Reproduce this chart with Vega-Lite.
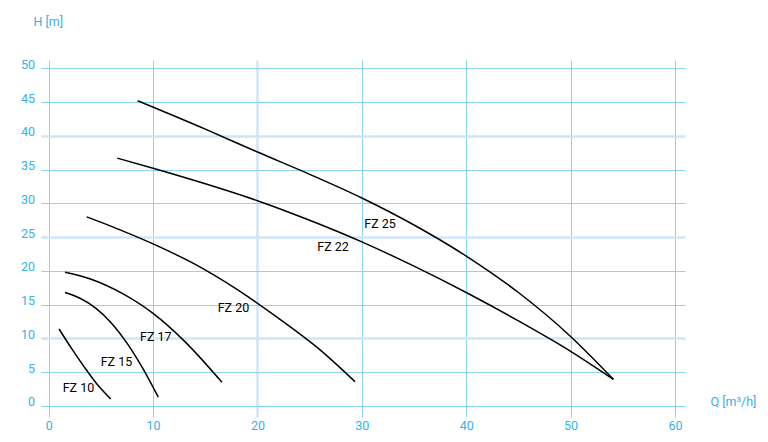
{
  "$schema": "https://vega.github.io/schema/vega-lite/v6.json",
  "width": 644,
  "height": 357,
  "autosize": {"type": "none"},
  "padding": {"left": 41, "top": 60, "right": 83, "bottom": 25},
  "background": "white",
  "config": {"view": {"stroke": null}, "font": "Roboto"},
  "datasets": {
    "curves": [
      {"pump": "FZ 10", "Q": 0.99, "H": 11.4},
      {"pump": "FZ 10", "Q": 2.2, "H": 8.5},
      {"pump": "FZ 10", "Q": 3.4, "H": 5.8},
      {"pump": "FZ 10", "Q": 4.7, "H": 3.1},
      {"pump": "FZ 10", "Q": 5.94, "H": 1.04},
      {"pump": "FZ 15", "Q": 1.56, "H": 16.8},
      {"pump": "FZ 15", "Q": 3.0, "H": 15.95},
      {"pump": "FZ 15", "Q": 4.5, "H": 14.5},
      {"pump": "FZ 15", "Q": 6.0, "H": 12.3},
      {"pump": "FZ 15", "Q": 7.5, "H": 9.3},
      {"pump": "FZ 15", "Q": 9.0, "H": 5.6},
      {"pump": "FZ 15", "Q": 10.5, "H": 1.3},
      {"pump": "FZ 17", "Q": 1.56, "H": 19.8},
      {"pump": "FZ 17", "Q": 4.0, "H": 18.8},
      {"pump": "FZ 17", "Q": 7.0, "H": 16.7},
      {"pump": "FZ 17", "Q": 10.0, "H": 13.7},
      {"pump": "FZ 17", "Q": 13.0, "H": 9.6},
      {"pump": "FZ 17", "Q": 16.6, "H": 3.5},
      {"pump": "FZ 20", "Q": 3.64, "H": 28.0},
      {"pump": "FZ 20", "Q": 6.0, "H": 26.6},
      {"pump": "FZ 20", "Q": 10.0, "H": 24.0},
      {"pump": "FZ 20", "Q": 14.0, "H": 21.0},
      {"pump": "FZ 20", "Q": 18.0, "H": 17.3},
      {"pump": "FZ 20", "Q": 22.0, "H": 13.0},
      {"pump": "FZ 20", "Q": 26.0, "H": 8.3},
      {"pump": "FZ 20", "Q": 29.34, "H": 3.6},
      {"pump": "FZ 22", "Q": 6.57, "H": 36.7},
      {"pump": "FZ 22", "Q": 10.0, "H": 35.2},
      {"pump": "FZ 22", "Q": 15.0, "H": 32.9},
      {"pump": "FZ 22", "Q": 20.0, "H": 30.4},
      {"pump": "FZ 22", "Q": 25.0, "H": 27.5},
      {"pump": "FZ 22", "Q": 30.0, "H": 24.3},
      {"pump": "FZ 22", "Q": 35.0, "H": 20.7},
      {"pump": "FZ 22", "Q": 40.0, "H": 16.8},
      {"pump": "FZ 22", "Q": 45.0, "H": 12.6},
      {"pump": "FZ 22", "Q": 50.0, "H": 8.1},
      {"pump": "FZ 22", "Q": 54.1, "H": 3.95},
      {"pump": "FZ 25", "Q": 8.52, "H": 45.2},
      {"pump": "FZ 25", "Q": 15.0, "H": 41.0},
      {"pump": "FZ 25", "Q": 20.0, "H": 37.6},
      {"pump": "FZ 25", "Q": 25.0, "H": 34.3},
      {"pump": "FZ 25", "Q": 30.0, "H": 30.8},
      {"pump": "FZ 25", "Q": 35.0, "H": 26.8},
      {"pump": "FZ 25", "Q": 40.0, "H": 22.2},
      {"pump": "FZ 25", "Q": 45.0, "H": 16.8},
      {"pump": "FZ 25", "Q": 50.0, "H": 10.3},
      {"pump": "FZ 25", "Q": 54.1, "H": 3.95}
    ],
    "labels": [
      {"pump": "FZ 10", "Q": 1.34, "H": 2.66},
      {"pump": "FZ 15", "Q": 4.98, "H": 6.47},
      {"pump": "FZ 17", "Q": 8.75, "H": 10.26},
      {"pump": "FZ 20", "Q": 16.19, "H": 14.55},
      {"pump": "FZ 22", "Q": 25.73, "H": 23.6},
      {"pump": "FZ 25", "Q": 30.23, "H": 27.0}
    ]
  },
  "encoding": {
    "x": {
      "field": "Q",
      "type": "quantitative",
      "scale": {"domain": [-0.738, 60.96], "nice": false, "zero": false},
      "axis": {
        "values": [0, 10, 20, 30, 40, 50, 60],
        "domain": false,
        "ticks": false,
        "grid": true,
        "gridColor": {"condition": {"test": "datum.value === 20", "value": "#cfe6f6"}, "value": "#8ad6f0"},
        "gridWidth": {"condition": {"test": "datum.value === 20", "value": 2.5}, "value": 1},
        "labelColor": "#35b2e6",
        "labelFontSize": 12.5,
        "labelPadding": 2,
        "labelFlush": false,
        "labelOverlap": false,
        "title": "Q [m³/h]",
        "titleX": 669,
        "titleY": -11.5,
        "titleAlign": "left",
        "titleAnchor": null,
        "titleBaseline": "alphabetic",
        "titleAngle": 0,
        "titleFontWeight": "normal",
        "titleFontSize": 12.5,
        "titleColor": "#35b2e6"
      }
    },
    "y": {
      "field": "H",
      "type": "quantitative",
      "scale": {"domain": [-1.63, 51.23], "nice": false, "zero": false},
      "axis": {
        "values": [0, 5, 10, 15, 20, 25, 30, 35, 40, 45, 50],
        "domain": false,
        "ticks": false,
        "grid": true,
        "gridColor": {"condition": {"test": "datum.value === 10 || datum.value === 25 || datum.value === 40", "value": "#cfe6f6"}, "value": "#8ad6f0"},
        "gridWidth": {"condition": {"test": "datum.value === 10 || datum.value === 25 || datum.value === 40", "value": 2.5}, "value": 1},
        "labelColor": "#35b2e6",
        "labelFontSize": 12.5,
        "labelPadding": 6.5,
        "labelBaseline": "alphabetic",
        "labelFlush": false,
        "labelOverlap": false,
        "title": "H [m]",
        "titleX": -8,
        "titleY": -34.3,
        "titleAlign": "left",
        "titleAnchor": null,
        "titleBaseline": "alphabetic",
        "titleAngle": 0,
        "titleFontWeight": "normal",
        "titleFontSize": 12.5,
        "titleColor": "#35b2e6"
      }
    }
  },
  "layer": [
    {
      "data": {"name": "curves"},
      "mark": {"type": "line", "color": "black", "strokeWidth": 1.5, "interpolate": "monotone"},
      "encoding": {"detail": {"field": "pump", "type": "nominal"}}
    },
    {
      "data": {"name": "labels"},
      "mark": {"type": "text", "align": "left", "baseline": "middle", "fontSize": 12.5, "color": "black"},
      "encoding": {"text": {"field": "pump", "type": "nominal"}}
    }
  ]
}
